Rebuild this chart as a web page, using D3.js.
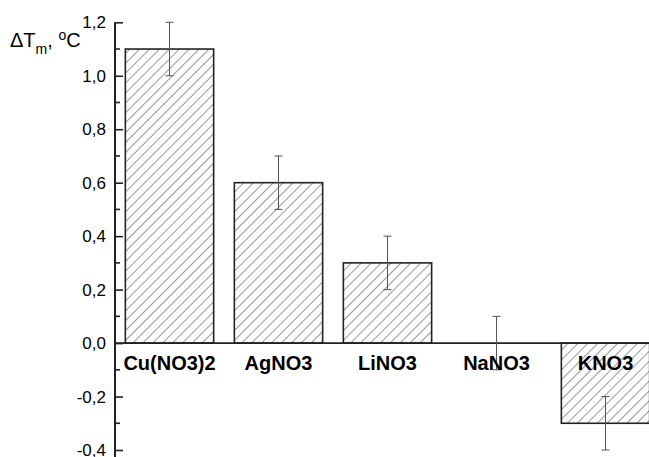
<!DOCTYPE html>
<html>
<head>
<meta charset="utf-8">
<title>dTm</title>
<script src="https://d3js.org/d3.v7.min.js"></script>
<style>
  body { margin: 0; background: #fff; }
  text { font-family: "Liberation Sans", Arial, sans-serif; }
</style>
</head>
<body>
<svg id="chart"></svg>
<script>
// data
var salts = ["Cu(NO3)2", "AgNO3", "LiNO3", "NaNO3", "KNO3"];
var dTm = [1.1, 0.6, 0.3, 0.0, -0.3];
var errs = [0.1, 0.1, 0.1, 0.1, 0.1];
var yTicks = [-0.4, -0.2, 0.0, 0.2, 0.4, 0.6, 0.8, 1.0, 1.2];
var yMinor = [-0.3, -0.1, 0.1, 0.3, 0.5, 0.7, 0.9, 1.1];

var W = 649, H = 457;
var svg = d3.select("#chart").attr("width", W).attr("height", H);

var x = d3.scaleBand()
  .domain(salts)
  .range([115, 660])
  .paddingInner(0.19)
  .paddingOuter(0.095);

var y = d3.scaleLinear()
  .domain([-0.4, 1.2])
  .range([450, 22.3]);

// hatch
var defs = svg.append("defs");
defs.append("pattern")
  .attr("id", "hatch")
  .attr("patternUnits", "userSpaceOnUse")
  .attr("width", 7).attr("height", 7)
  .attr("patternTransform", "rotate(45)")
  .append("line")
  .attr("x1", 0).attr("y1", 0).attr("x2", 0).attr("y2", 7)
  .attr("stroke", "#333").attr("stroke-width", 1);

var data = salts.map(function(s, i) { return {name: s, v: dTm[i], e: errs[i]}; });

// bars
svg.selectAll("rect.bar")
  .data(data.filter(function(d) { return d.v !== 0; }))
  .enter().append("rect")
  .attr("class", "bar")
  .attr("x", function(d) { return x(d.name); })
  .attr("y", function(d) { return y(Math.max(0, d.v)); })
  .attr("width", x.bandwidth())
  .attr("height", function(d) { return Math.abs(y(d.v) - y(0)); })
  .attr("fill", "url(#hatch)")
  .attr("stroke", "#222")
  .attr("stroke-width", 1.6);

// zero line
svg.append("line")
  .attr("x1", 115).attr("x2", W)
  .attr("y1", y(0)).attr("y2", y(0))
  .attr("stroke", "#222").attr("stroke-width", 1.6);

// error bars
var eb = svg.selectAll("g.err").data(data).enter().append("g")
  .attr("transform", function(d) { return "translate(" + (x(d.name) + x.bandwidth() / 2) + ",0)"; })
  .attr("stroke", "#555").attr("stroke-width", 1);
eb.append("line")
  .attr("y1", function(d) { return y(d.v - d.e); })
  .attr("y2", function(d) { return y(d.v + d.e); });
eb.append("line").attr("x1", -4).attr("x2", 4)
  .attr("y1", function(d) { return y(d.v + d.e); })
  .attr("y2", function(d) { return y(d.v + d.e); });
eb.append("line").attr("x1", -4).attr("x2", 4)
  .attr("y1", function(d) { return y(d.v - d.e); })
  .attr("y2", function(d) { return y(d.v - d.e); });

// category labels
svg.selectAll("text.cat").data(data).enter().append("text")
  .attr("x", function(d) { return x(d.name) + x.bandwidth() / 2; })
  .attr("y", y(0) + 27)
  .attr("text-anchor", "middle")
  .attr("font-size", 20)
  .attr("font-weight", "bold")
  .attr("fill", "#000")
  .text(function(d) { return d.name; });

// y axis
var fmt = function(d) { return d3.format(".1f")(d).replace(".", ",").replace("\u2212", "-"); };
var yAxis = svg.append("g")
  .attr("transform", "translate(115,0)")
  .call(d3.axisRight(y).tickValues(yTicks).tickSize(8).tickFormat(""));
yAxis.select(".domain").remove();
yAxis.selectAll("line").attr("stroke", "#222").attr("stroke-width", 1.6);

svg.append("g")
  .attr("transform", "translate(115,0)")
  .selectAll("line").data(yMinor).enter().append("line")
  .attr("x1", 0).attr("x2", 5)
  .attr("y1", function(d) { return y(d); })
  .attr("y2", function(d) { return y(d); })
  .attr("stroke", "#222").attr("stroke-width", 1.6);

svg.append("line")
  .attr("x1", 115).attr("x2", 115)
  .attr("y1", y(1.2)).attr("y2", H)
  .attr("stroke", "#222").attr("stroke-width", 2);

svg.selectAll("text.ytl").data(yTicks).enter().append("text")
  .attr("x", 106)
  .attr("y", function(d) { return y(d) + 6; })
  .attr("text-anchor", "end")
  .attr("font-size", 17)
  .attr("fill", "#000")
  .text(fmt);

// axis title
var t = svg.append("text").attr("x", 10).attr("y", 47).attr("font-size", 20).attr("fill", "#000");
t.append("tspan").text("\u0394T");
t.append("tspan").attr("dy", 7).attr("font-size", 14).text("m");
t.append("tspan").attr("dy", -7).text(", ");
t.append("tspan").attr("dy", -7).attr("font-size", 14).text("o");
t.append("tspan").attr("dy", 7).text("C");
</script>
</body>
</html>
